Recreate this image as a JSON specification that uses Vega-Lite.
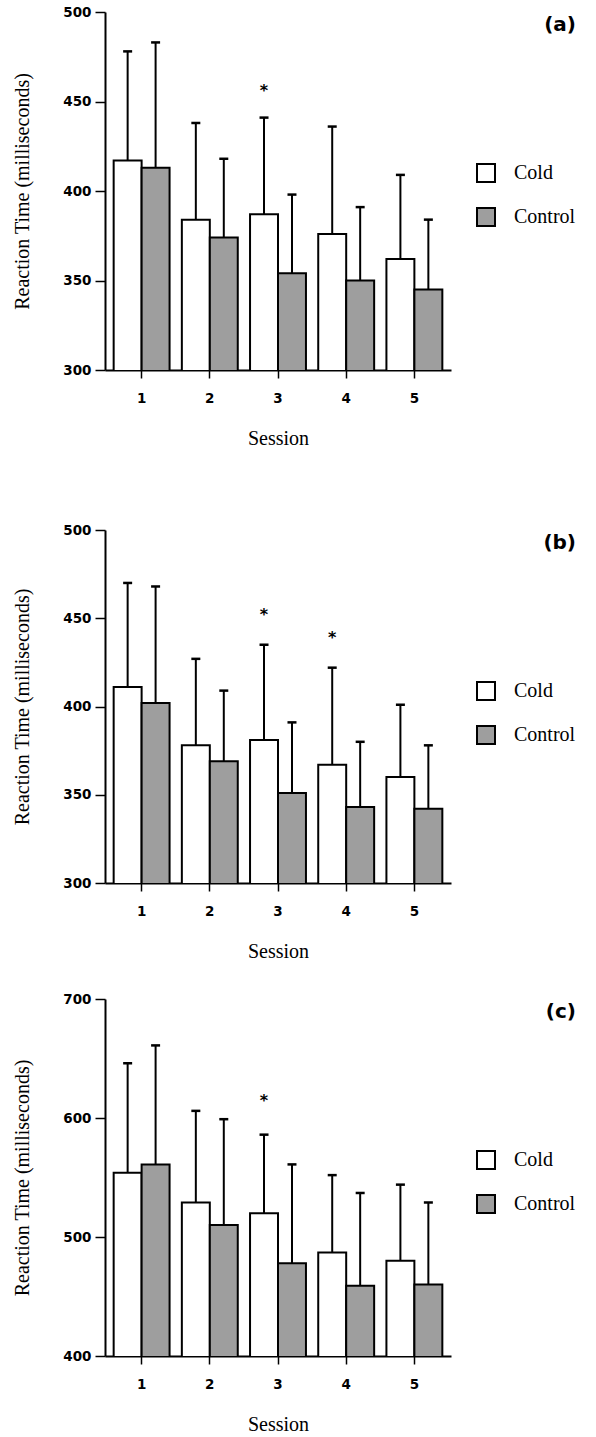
{
  "$schema": "https://vega.github.io/schema/vega-lite/v6.json",
  "padding": {"left": 12, "top": 5, "right": 0, "bottom": 0},
  "background": "white",
  "config": {
    "view": {"stroke": null},
    "axis": {
      "grid": false,
      "labelFont": "DejaVu Sans",
      "labelFontWeight": "bold",
      "labelFontSize": 13.5,
      "labelColor": "black",
      "titleFont": "Liberation Serif",
      "titleFontSize": 20,
      "titleFontWeight": "normal",
      "titleColor": "black",
      "domainColor": "black",
      "domainWidth": 2,
      "tickColor": "black",
      "tickWidth": 1.5
    },
    "axisY": {"tickSize": 10, "labelPadding": 4, "titlePadding": 30},
    "axisX": {"tickSize": 8, "labelPadding": 13, "labelAngle": 0, "titlePadding": 24},
    "legend": {
      "orient": "none",
      "legendX": 371,
      "legendY": 151,
      "title": null,
      "symbolType": "square",
      "symbolSize": 324,
      "symbolStrokeColor": "black",
      "symbolStrokeWidth": 2,
      "labelFont": "Liberation Serif",
      "labelFontSize": 20,
      "labelColor": "black",
      "labelOffset": 18,
      "rowPadding": 18
    },
    "title": {
      "anchor": "end",
      "font": "DejaVu Sans",
      "fontSize": 20,
      "fontWeight": "bold",
      "color": "black",
      "baseline": "top",
      "offset": -30
    }
  },
  "datasets": {
    "bars": [
      {"panel": "a", "session": "1", "condition": "Cold", "mean": 417, "upper": 478},
      {"panel": "a", "session": "1", "condition": "Control", "mean": 413, "upper": 483},
      {"panel": "a", "session": "2", "condition": "Cold", "mean": 384, "upper": 438},
      {"panel": "a", "session": "2", "condition": "Control", "mean": 374, "upper": 418},
      {"panel": "a", "session": "3", "condition": "Cold", "mean": 387, "upper": 441},
      {"panel": "a", "session": "3", "condition": "Control", "mean": 354, "upper": 398},
      {"panel": "a", "session": "4", "condition": "Cold", "mean": 376, "upper": 436},
      {"panel": "a", "session": "4", "condition": "Control", "mean": 350, "upper": 391},
      {"panel": "a", "session": "5", "condition": "Cold", "mean": 362, "upper": 409},
      {"panel": "a", "session": "5", "condition": "Control", "mean": 345, "upper": 384},
      {"panel": "b", "session": "1", "condition": "Cold", "mean": 411, "upper": 470},
      {"panel": "b", "session": "1", "condition": "Control", "mean": 402, "upper": 468},
      {"panel": "b", "session": "2", "condition": "Cold", "mean": 378, "upper": 427},
      {"panel": "b", "session": "2", "condition": "Control", "mean": 369, "upper": 409},
      {"panel": "b", "session": "3", "condition": "Cold", "mean": 381, "upper": 435},
      {"panel": "b", "session": "3", "condition": "Control", "mean": 351, "upper": 391},
      {"panel": "b", "session": "4", "condition": "Cold", "mean": 367, "upper": 422},
      {"panel": "b", "session": "4", "condition": "Control", "mean": 343, "upper": 380},
      {"panel": "b", "session": "5", "condition": "Cold", "mean": 360, "upper": 401},
      {"panel": "b", "session": "5", "condition": "Control", "mean": 342, "upper": 378},
      {"panel": "c", "session": "1", "condition": "Cold", "mean": 554, "upper": 646},
      {"panel": "c", "session": "1", "condition": "Control", "mean": 561, "upper": 661},
      {"panel": "c", "session": "2", "condition": "Cold", "mean": 529, "upper": 606},
      {"panel": "c", "session": "2", "condition": "Control", "mean": 510, "upper": 599},
      {"panel": "c", "session": "3", "condition": "Cold", "mean": 520, "upper": 586},
      {"panel": "c", "session": "3", "condition": "Control", "mean": 478, "upper": 561},
      {"panel": "c", "session": "4", "condition": "Cold", "mean": 487, "upper": 552},
      {"panel": "c", "session": "4", "condition": "Control", "mean": 459, "upper": 537},
      {"panel": "c", "session": "5", "condition": "Cold", "mean": 480, "upper": 544},
      {"panel": "c", "session": "5", "condition": "Control", "mean": 460, "upper": 529}
    ],
    "stars": [
      {"panel": "a", "session": "3", "condition": "Cold", "star": 458},
      {"panel": "b", "session": "3", "condition": "Cold", "star": 454},
      {"panel": "b", "session": "4", "condition": "Cold", "star": 441},
      {"panel": "c", "session": "3", "condition": "Cold", "star": 618}
    ]
  },
  "spacing": 30,
  "resolve": {"scale": {"y": "independent", "color": "independent"}, "legend": {"color": "independent"}},
  "vconcat": [
    {
      "spacing": 74,
      "resolve": {"scale": {"y": "independent", "color": "independent"}, "legend": {"color": "independent"}},
      "vconcat": [
        {
          "width": 346,
          "height": 358,
          "title": {"text": "(a)"},
          "layer": [
            {
              "data": {"name": "bars"},
              "transform": [{"filter": "datum.panel === 'a'"}],
              "mark": {"type": "bar", "stroke": "black", "strokeWidth": 2, "clip": true},
              "encoding": {
                "x": {"field": "session", "type": "nominal", "title": "Session", "scale": {"paddingInner": 0.18, "paddingOuter": 0.127}},
                "xOffset": {"field": "condition", "type": "nominal"},
                "y": {"field": "mean", "type": "quantitative", "title": "Reaction Time (milliseconds)", "scale": {"domain": [300, 500], "zero": false, "nice": false}, "axis": {"values": [300, 350, 400, 450, 500]}},
                "color": {"field": "condition", "type": "nominal", "scale": {"domain": ["Cold", "Control"], "range": ["#ffffff", "#9e9e9e"]}}
              }
            },
            {
              "data": {"name": "bars"},
              "transform": [{"filter": "datum.panel === 'a'"}],
              "mark": {"type": "rule", "color": "black", "strokeWidth": 2},
              "encoding": {
                "x": {"field": "session", "type": "nominal"},
                "xOffset": {"field": "condition", "type": "nominal"},
                "y": {"field": "mean", "type": "quantitative"},
                "y2": {"field": "upper"}
              }
            },
            {
              "data": {"name": "bars"},
              "transform": [{"filter": "datum.panel === 'a'"}],
              "mark": {"type": "tick", "color": "black", "thickness": 2.5, "size": 9, "opacity": 1},
              "encoding": {
                "x": {"field": "session", "type": "nominal"},
                "xOffset": {"field": "condition", "type": "nominal"},
                "y": {"field": "upper", "type": "quantitative"}
              }
            },
            {
              "data": {"name": "stars"},
              "transform": [{"filter": "datum.panel === 'a'"}],
              "mark": {"type": "text", "text": "*", "font": "DejaVu Sans", "fontWeight": "bold", "fontSize": 16, "baseline": "middle", "dy": 4, "color": "black"},
              "encoding": {
                "x": {"field": "session", "type": "nominal"},
                "xOffset": {"field": "condition", "type": "nominal"},
                "y": {"field": "star", "type": "quantitative"}
              }
            }
          ]
        },
        {
          "width": 346,
          "height": 353,
          "title": {"text": "(b)"},
          "layer": [
            {
              "data": {"name": "bars"},
              "transform": [{"filter": "datum.panel === 'b'"}],
              "mark": {"type": "bar", "stroke": "black", "strokeWidth": 2, "clip": true},
              "encoding": {
                "x": {"field": "session", "type": "nominal", "title": "Session", "scale": {"paddingInner": 0.18, "paddingOuter": 0.127}},
                "xOffset": {"field": "condition", "type": "nominal"},
                "y": {"field": "mean", "type": "quantitative", "title": "Reaction Time (milliseconds)", "scale": {"domain": [300, 500], "zero": false, "nice": false}, "axis": {"values": [300, 350, 400, 450, 500]}},
                "color": {"field": "condition", "type": "nominal", "scale": {"domain": ["Cold", "Control"], "range": ["#ffffff", "#9e9e9e"]}}
              }
            },
            {
              "data": {"name": "bars"},
              "transform": [{"filter": "datum.panel === 'b'"}],
              "mark": {"type": "rule", "color": "black", "strokeWidth": 2},
              "encoding": {
                "x": {"field": "session", "type": "nominal"},
                "xOffset": {"field": "condition", "type": "nominal"},
                "y": {"field": "mean", "type": "quantitative"},
                "y2": {"field": "upper"}
              }
            },
            {
              "data": {"name": "bars"},
              "transform": [{"filter": "datum.panel === 'b'"}],
              "mark": {"type": "tick", "color": "black", "thickness": 2.5, "size": 9, "opacity": 1},
              "encoding": {
                "x": {"field": "session", "type": "nominal"},
                "xOffset": {"field": "condition", "type": "nominal"},
                "y": {"field": "upper", "type": "quantitative"}
              }
            },
            {
              "data": {"name": "stars"},
              "transform": [{"filter": "datum.panel === 'b'"}],
              "mark": {"type": "text", "text": "*", "font": "DejaVu Sans", "fontWeight": "bold", "fontSize": 16, "baseline": "middle", "dy": 4, "color": "black"},
              "encoding": {
                "x": {"field": "session", "type": "nominal"},
                "xOffset": {"field": "condition", "type": "nominal"},
                "y": {"field": "star", "type": "quantitative"}
              }
            }
          ]
        }
      ]
    },
    {
      "width": 346,
      "height": 357,
      "title": {"text": "(c)"},
      "layer": [
        {
          "data": {"name": "bars"},
          "transform": [{"filter": "datum.panel === 'c'"}],
          "mark": {"type": "bar", "stroke": "black", "strokeWidth": 2, "clip": true},
          "encoding": {
            "x": {"field": "session", "type": "nominal", "title": "Session", "scale": {"paddingInner": 0.18, "paddingOuter": 0.127}},
            "xOffset": {"field": "condition", "type": "nominal"},
            "y": {"field": "mean", "type": "quantitative", "title": "Reaction Time (milliseconds)", "scale": {"domain": [400, 700], "zero": false, "nice": false}, "axis": {"values": [400, 500, 600, 700]}},
            "color": {"field": "condition", "type": "nominal", "scale": {"domain": ["Cold", "Control"], "range": ["#ffffff", "#9e9e9e"]}}
          }
        },
        {
          "data": {"name": "bars"},
          "transform": [{"filter": "datum.panel === 'c'"}],
          "mark": {"type": "rule", "color": "black", "strokeWidth": 2},
          "encoding": {
            "x": {"field": "session", "type": "nominal"},
            "xOffset": {"field": "condition", "type": "nominal"},
            "y": {"field": "mean", "type": "quantitative"},
            "y2": {"field": "upper"}
          }
        },
        {
          "data": {"name": "bars"},
          "transform": [{"filter": "datum.panel === 'c'"}],
          "mark": {"type": "tick", "color": "black", "thickness": 2.5, "size": 9, "opacity": 1},
          "encoding": {
            "x": {"field": "session", "type": "nominal"},
            "xOffset": {"field": "condition", "type": "nominal"},
            "y": {"field": "upper", "type": "quantitative"}
          }
        },
        {
          "data": {"name": "stars"},
          "transform": [{"filter": "datum.panel === 'c'"}],
          "mark": {"type": "text", "text": "*", "font": "DejaVu Sans", "fontWeight": "bold", "fontSize": 16, "baseline": "middle", "dy": 4, "color": "black"},
          "encoding": {
            "x": {"field": "session", "type": "nominal"},
            "xOffset": {"field": "condition", "type": "nominal"},
            "y": {"field": "star", "type": "quantitative"}
          }
        }
      ]
    }
  ]
}
